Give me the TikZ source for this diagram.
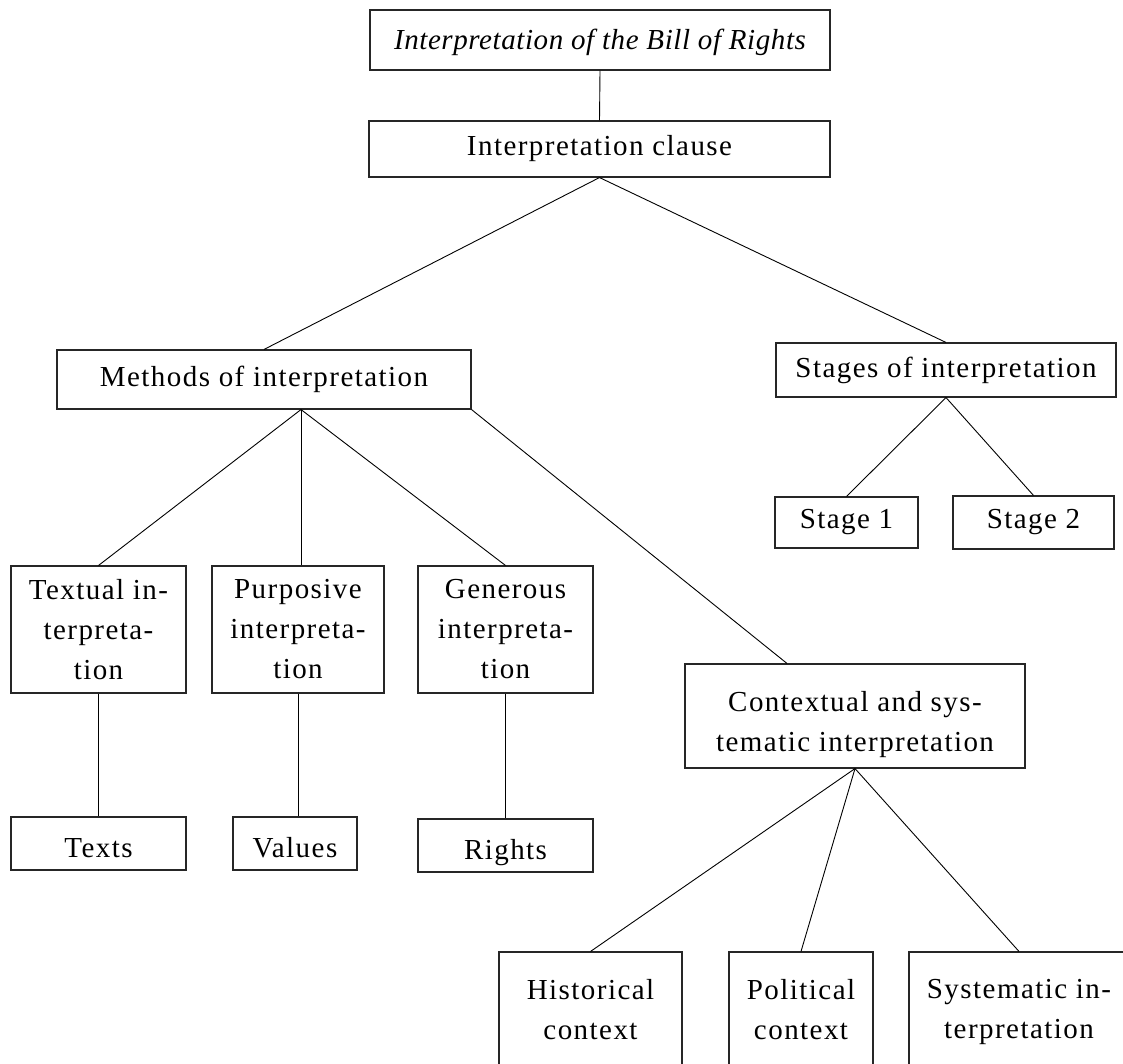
\documentclass[tikz,border=0pt]{standalone}
\usepackage{fontspec}
\setmainfont{Liberation Serif}[LetterSpace=5]
\usetikzlibrary{calc}

% invisible rules that set the vertical placement of some labels
\newcommand{\leafstrut}{\rule[-6pt]{0pt}{40pt}}
\newcommand{\tallstrut}{\rule{0pt}{38pt}}
\newcommand{\deepstrut}{\rule[-6pt]{0pt}{6pt}}

\tikzset{
  box/.style={draw=black!85, line width=1.1pt, rectangle, inner sep=0pt,
    align=center, font=\fontsize{29}{40}\selectfont},
  link/.style={draw=black, line width=0.9pt},
}

\begin{document}
\begin{tikzpicture}[x=1pt, y=-1pt]
  \useasboundingbox (0,0) rectangle (1123,1063);
  \clip (0,0) rectangle (1123,1063);

  % root and the clause
  \node[box, minimum width=460pt, minimum height=60pt] (root) at (600,40)
    {\itshape\addfontfeature{LetterSpace=2}\rule{0pt}{26pt}Interpretation of the Bill of Rights};
  \node[box, minimum width=461pt, minimum height=56pt] (clause) at (599.5,149)
    {Interpretation clause};

  % second level
  \node[box, minimum width=414pt, minimum height=59pt] (meth) at (264,379.5)
    {Methods of interpretation};
  \node[box, minimum width=340pt, minimum height=54pt] (stages) at (946,370)
    {Stages of interpretation};

  % stages
  \node[box, minimum width=143pt, minimum height=51pt] (st1) at (846.5,522.5) {Stage 1};
  \node[box, minimum width=161pt, minimum height=53pt] (st2) at (1033.5,522.5) {Stage 2};

  % methods
  \node[box, minimum width=175pt, minimum height=127pt] (txt) at (98.5,629.5)
    {Textual in-\\terpreta-\\tion};
  \node[box, minimum width=172pt, minimum height=127pt] (pur) at (298,629.5)
    {Purposive\\interpreta-\\tion};
  \node[box, minimum width=175pt, minimum height=127pt] (gen) at (505.5,629.5)
    {Generous\\interpreta-\\tion};
  \node[box, minimum width=340pt, minimum height=104pt] (ctx) at (855,716)
    {\tallstrut Contextual and sys-\\tematic interpretation};

  % leaves of the methods
  \node[box, minimum width=175pt, minimum height=53pt] (texts) at (98.5,843.5) {\leafstrut Texts};
  \node[box, minimum width=124pt, minimum height=53pt] (vals) at (295,843.5) {\leafstrut Values};
  \node[box, minimum width=175pt, minimum height=53pt] (rights) at (505.5,845.5) {\leafstrut Rights};

  % contexts
  \node[box, minimum width=183pt, minimum height=120pt] (hist) at (590.5,1012)
    {Historical\\context\deepstrut};
  \node[box, minimum width=144pt, minimum height=120pt] (pol) at (801,1012)
    {Political\\context\deepstrut};
  \node[box, minimum width=220pt, minimum height=120pt] (sys) at (1019,1012)
    {Systematic in-\\terpretation};

  % connectors
  \coordinate (mj) at ([xshift=37pt]meth.south);
  \coordinate (ctxin) at ([xshift=-68pt]ctx.north);

  \draw[link] (root.south) -- (clause.north);
  \draw[link] (clause.south) -- (meth.north);
  \draw[link] (clause.south) -- (stages.north);
  \draw[link] (stages.south) -- (st1.north);
  \draw[link] (stages.south) -- (st2.north);
  \draw[link] (mj) -- (txt.north);
  \draw[link] (mj) -- (mj |- pur.north);
  \draw[link] (mj) -- (gen.north);
  \draw[link] (meth.south east) -- (ctxin);
  \draw[link] (txt.south) -- (texts.north);
  \draw[link] (pur.south) -- (pur.south |- vals.north);
  \draw[link] (gen.south) -- (rights.north);
  \draw[link] (ctx.south) -- (hist.north);
  \draw[link] (ctx.south) -- (pol.north);
  \draw[link] (ctx.south) -- (sys.north);
\end{tikzpicture}
\end{document}
